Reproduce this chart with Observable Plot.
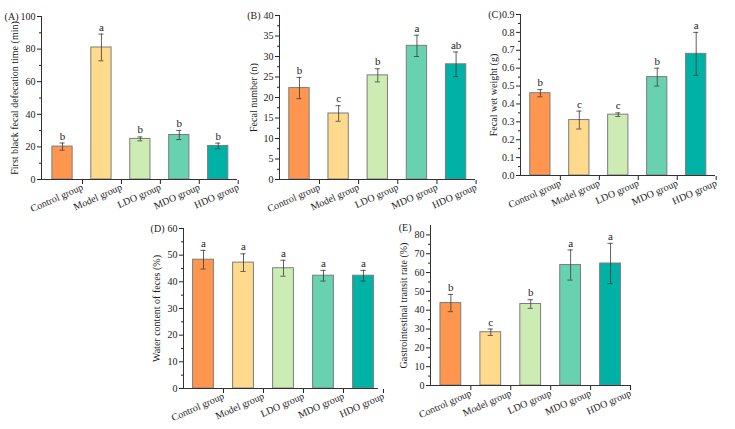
<!DOCTYPE html>
<html><head><meta charset="utf-8">
<script src="https://cdn.jsdelivr.net/npm/d3@7"></script>
<script src="https://cdn.jsdelivr.net/npm/@observablehq/plot@0.6"></script>
<style>
body{margin:0;background:#fff}
#wrap{position:relative;width:735px;height:429px;overflow:hidden;background:#fff}
#wrap svg{position:absolute}
</style>
</head><body><div id="wrap"></div>
<script>
const groups = ["Control group","Model group","LDO group","MDO group","HDO group"];
const colors = ["#FF9650","#FFDA8C","#CDECB4","#68D1B0","#00B2A6"];

const labelA = "First black fecal defecation time (min)";
const meansA = [20.2, 81.0, 24.9, 27.3, 20.6];
const errsA = [2.2, 8.2, 1.2, 2.8, 1.7];
const lettersA = ["b","a","b","b","b"];
const ticksA = [0,20,40,60,80,100];
const minorA = [10,30,50,70,90];

const labelB = "Fecal number (n)";
const meansB = [22.3, 16.1, 25.4, 32.6, 28.1];
const errsB = [2.6, 1.9, 1.6, 2.6, 3.0];
const lettersB = ["b","c","b","a","ab"];
const ticksB = [0,5,10,15,20,25,30,35,40];
const minorB = [2.5,7.5,12.5,17.5,22.5,27.5,32.5,37.5];

const labelC = "Fecal wet weight (g)";
const meansC = [0.46, 0.31, 0.34, 0.55, 0.68];
const errsC = [0.02, 0.05, 0.01, 0.05, 0.12];
const lettersC = ["b","c","c","b","a"];
const ticksC = [0,0.1,0.2,0.3,0.4,0.5,0.6,0.7,0.8,0.9];
const minorC = [0.05,0.15,0.25,0.35,0.45,0.55,0.65,0.75,0.85];

const labelD = "Water content of feces (%)";
const meansD = [48.3, 47.2, 45.1, 42.3, 42.3];
const errsD = [3.5, 3.3, 3.0, 2.0, 2.0];
const lettersD = ["a","a","a","a","a"];
const ticksD = [0,10,20,30,40,50,60];
const minorD = [5,15,25,35,45,55];

const labelE = "Gastrointestinal transit rate (%)";
const meansE = [43.8, 28.3, 43.3, 64.0, 64.8];
const errsE = [4.6, 1.7, 2.3, 8.0, 10.7];
const lettersE = ["b","c","b","a","a"];
const ticksE = [0,10,20,30,40,50,60,70,80];
const minorE = [5,15,25,35,45,55,65,75];

function panel(c) {
  const rows = groups.map((g, i) => ({
    i, g, v: c.means[i], lo: c.means[i] - c.errs[i], hi: c.means[i] + c.errs[i], letter: c.letters[i]
  }));
  const hw = 0.26, cap = 0.065;
  const svg = Plot.plot({
    width: c.width, height: c.height,
    marginLeft: c.ml, marginRight: c.mr, marginTop: c.mt, marginBottom: c.mb,
    style: {fontFamily: "'Liberation Serif', serif", fontSize: "10px", color: "#222", background: "transparent", overflow: "visible"},
    x: {domain: c.xd, axis: null, label: null},
    y: {domain: c.yd, axis: null, label: null},
    color: {domain: groups, range: colors},
    marks: [
      Plot.rectY(rows, {x1: d => d.i - hw, x2: d => d.i + hw, y1: 0, y2: "v", fill: "g", stroke: "#7d7d7d", strokeWidth: 1}),
      Plot.ruleX(rows, {x: "i", y1: "lo", y2: "hi", stroke: "#3a3a3a", strokeWidth: 0.8}),
      Plot.ruleY(rows, {y: "hi", x1: d => d.i - cap, x2: d => d.i + cap, stroke: "#3a3a3a", strokeWidth: 0.8}),
      Plot.ruleY(rows, {y: "lo", x1: d => d.i - cap, x2: d => d.i + cap, stroke: "#3a3a3a", strokeWidth: 0.8}),
      Plot.text(rows, {x: "i", y: "hi", text: "letter", dy: -7, fontSize: 11, fill: "#222"}),
      Plot.axisY({ticks: c.ticks, tickSize: 4, tickPadding: 2, tickFormat: c.fmt || (d => d),
        label: c.label, labelAnchor: "center", labelOffset: c.lo, labelArrow: "none", fontSize: 10}),
      Plot.axisY({ticks: c.minor, tickSize: 2, tickFormat: () => "", label: null}),
      Plot.axisX({ticks: [0,1,2,3,4], tickFormat: i => groups[i], tickSize: 4, tickPadding: 2,
        tickRotate: -24, label: null, dx: c.tdx, dy: c.tdy, fontSize: 10}),
      Plot.frame({anchor: "left", stroke: "#333"}),
      Plot.frame({anchor: "bottom", stroke: "#333"}),
      Plot.text([c.tag], {x: c.xd[0], y: c.ticks[c.ticks.length - 1], text: d => d, dx: c.tagdx, dy: c.tagdy || 0, textAnchor: "end", fontSize: 10, fill: "#222"})
    ]
  });
  svg.style.left = c.left + "px";
  svg.style.top = c.top + "px";
  document.getElementById("wrap").appendChild(svg);
}

panel({tag: "(A)", label: labelA, means: meansA, errs: errsA, letters: lettersA, ticks: ticksA, minor: minorA,
  left: 0, top: 0, width: 245, height: 215, ml: 41, mr: 9, mt: 16, mb: 36, xd: [-0.54, 4.47], yd: [0, 100],
  lo: 31, tagdx: -23, tdx: 20, tdy: 1});
panel({tag: "(B)", label: labelB, means: meansB, errs: errsB, letters: lettersB, ticks: ticksB, minor: minorB,
  left: 240, top: 0, width: 245, height: 215, ml: 39, mr: 11, mt: 15, mb: 36, xd: [-0.51, 4.47], yd: [0, 40],
  lo: 30, tagdx: -19, tdx: 20, tdy: 1});
panel({tag: "(C)", label: labelC, means: meansC, errs: errsC, letters: lettersC, ticks: ticksC, minor: minorC,
  left: 480, top: 0, width: 255, height: 215, ml: 40, mr: 21, mt: 14, mb: 40, xd: [-0.51, 4.47], yd: [0, 0.9],
  fmt: d => d.toFixed(1), lo: 31, tagdx: -19, tdx: 20, tdy: 1});
panel({tag: "(D)", label: labelD, means: meansD, errs: errsD, letters: lettersD, ticks: ticksD, minor: minorD,
  left: 150, top: 215, width: 235, height: 214, ml: 33, mr: 8, mt: 13, mb: 41, xd: [-0.5, 4.35], yd: [0, 60],
  lo: 31, tagdx: -19, tdx: 20, tdy: 1});
panel({tag: "(E)", label: labelE, means: meansE, errs: errsE, letters: lettersE, ticks: ticksE, minor: minorE,
  left: 380, top: 215, width: 260, height: 214, ml: 50, mr: 10, mt: 10, mb: 44, xd: [-0.51, 4.5], yd: [0, 85],
  lo: 31, tagdx: -19, tagdy: -7, tdx: 20, tdy: 1});
</script>
</body></html>
